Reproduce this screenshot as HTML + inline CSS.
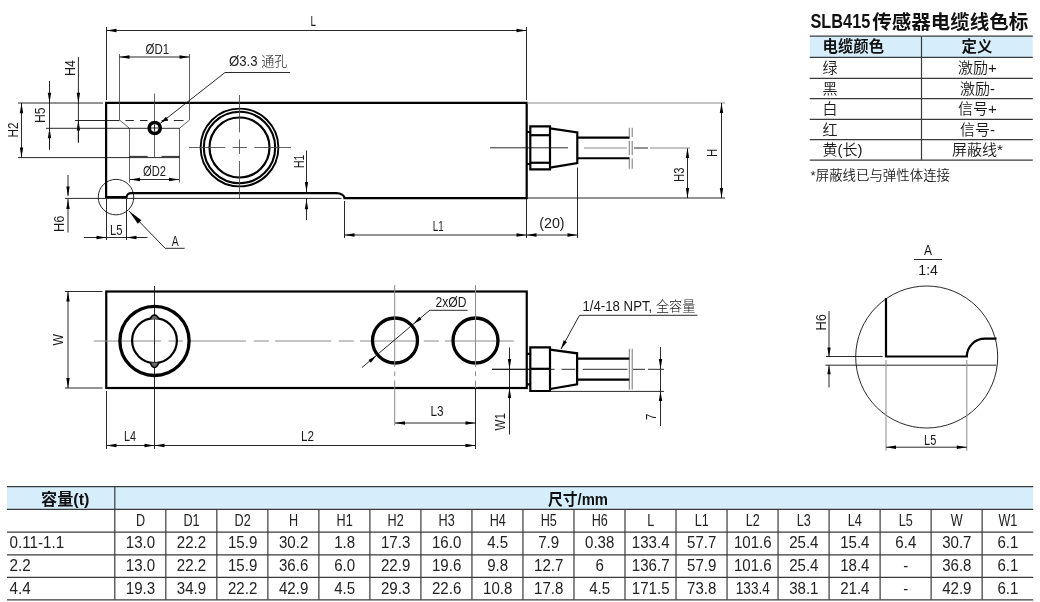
<!DOCTYPE html>
<html lang="zh"><head><meta charset="utf-8"><title>SLB415</title>
<style>
html,body{margin:0;padding:0;background:#fff;}
svg{display:block;will-change:transform}
.t{stroke:#111;stroke-width:0.9;fill:none}
.t2{stroke:#444;stroke-width:0.85;fill:none}
.g2{stroke:#666;stroke-width:0.9;fill:none}
.g{stroke:#8a8a8a;stroke-width:1;fill:none}
.k{stroke:#000;stroke-width:2.2;fill:none;stroke-linejoin:miter}
.k2{stroke:#000;stroke-width:2.2;fill:none}
.k15{stroke:#000;stroke-width:1.6;fill:none}
.k3{stroke:#000;stroke-width:3.3;fill:none}
.n{}
.tb{stroke:#3a3a3a;stroke-width:1.2;fill:none}
text{font-family:"Liberation Sans","Noto Sans CJK SC",sans-serif;fill:#1a1a1a}
.d{font-weight:400}
.cj{font-weight:300}
.b{font-weight:700;fill:#111}
.c{font-weight:350}
.n2{font-weight:400;fill:#222}
</style></head><body>
<svg width="1040" height="602" viewBox="0 0 1040 602">
<rect width="1040" height="602" fill="#fff"/>
<path d="M106.1,102.9 H526.7 V198.2 H344.5 A8.2,5 0 0 0 336.3,193.2 H131.2 A4.7,4.1 0 0 0 126.5,197.2 H106.1 Z" class="k" />
<line x1="106.5" y1="27" x2="106.5" y2="100" class="t" />
<line x1="526.5" y1="27" x2="526.5" y2="100" class="t" />
<line x1="106.5" y1="30.5" x2="526.5" y2="30.5" class="t" />
<polygon points="106.50,30.50 116.50,28.80 116.50,32.20" fill="#000"/>
<polygon points="526.50,30.50 516.50,32.20 516.50,28.80" fill="#000"/>
<text x="310.5" y="26" font-size="13.9" class="d" textLength="5.50" lengthAdjust="spacingAndGlyphs" >L</text>
<line x1="119.5" y1="54" x2="119.5" y2="120" class="t2" />
<line x1="189.5" y1="54" x2="189.5" y2="120" class="t2" />
<line x1="119.5" y1="57" x2="189.5" y2="57" class="t" />
<polygon points="119.50,57.00 129.50,55.30 129.50,58.70" fill="#000"/>
<polygon points="189.50,57.00 179.50,58.70 179.50,55.30" fill="#000"/>
<text x="145.5" y="54" font-size="13.9" class="d" textLength="23.50" lengthAdjust="spacingAndGlyphs" >ØD1</text>
<line x1="119.5" y1="120" x2="129.5" y2="128.3" class="t2" />
<line x1="189.5" y1="120" x2="179.5" y2="128.3" class="t2" />
<line x1="129.5" y1="128" x2="129.5" y2="182.5" class="t2" />
<line x1="179.5" y1="128" x2="179.5" y2="182.5" class="t2" />
<line x1="125.4" y1="120.5" x2="133.8" y2="120.5" class="t" />
<line x1="140" y1="120.5" x2="147.5" y2="120.5" class="t" />
<line x1="161.5" y1="120.5" x2="168" y2="120.5" class="t" />
<line x1="173.8" y1="120.5" x2="183.5" y2="120.5" class="t" />
<line x1="129.5" y1="156.4" x2="147.7" y2="156.4" class="t" />
<line x1="161.5" y1="156.4" x2="179.5" y2="156.4" class="t" />
<line x1="78.4" y1="57" x2="78.4" y2="142.5" class="t" />
<polygon points="78.40,102.70 76.70,92.70 80.10,92.70" fill="#000"/>
<polygon points="78.40,120.50 80.10,130.50 76.70,130.50" fill="#000"/>
<line x1="78.4" y1="120.5" x2="78.4" y2="142.5" class="t" />
<text transform="translate(74.5,76) rotate(-90)" font-size="13.9" class="d" textLength="16.00" lengthAdjust="spacingAndGlyphs">H4</text>
<line x1="75" y1="120.5" x2="119.5" y2="120.5" class="t" />
<line x1="49.5" y1="81" x2="49.5" y2="149.5" class="t" />
<polygon points="49.50,102.70 47.80,92.70 51.20,92.70" fill="#000"/>
<polygon points="49.50,128.30 51.20,138.30 47.80,138.30" fill="#000"/>
<line x1="49.5" y1="128" x2="49.5" y2="149.5" class="t" />
<text transform="translate(44.5,123) rotate(-90)" font-size="13.9" class="d" textLength="15.50" lengthAdjust="spacingAndGlyphs">H5</text>
<line x1="46" y1="128.3" x2="179.5" y2="128.3" class="t" />
<line x1="18" y1="103" x2="103" y2="103" class="t" stroke-width="1.1"/>
<line x1="18" y1="157.6" x2="179.5" y2="157.6" class="t" />
<line x1="21.5" y1="103" x2="21.5" y2="157.5" class="t" />
<polygon points="21.50,103.30 23.20,113.30 19.80,113.30" fill="#000"/>
<polygon points="21.50,157.50 19.80,147.50 23.20,147.50" fill="#000"/>
<text transform="translate(17.5,137.5) rotate(-90)" font-size="13.9" class="d" textLength="15.00" lengthAdjust="spacingAndGlyphs">H2</text>
<line x1="130" y1="179.5" x2="179" y2="179.5" class="t" />
<polygon points="130.00,179.50 140.00,177.80 140.00,181.20" fill="#000"/>
<polygon points="179.00,179.50 169.00,181.20 169.00,177.80" fill="#000"/>
<text x="143" y="175.5" font-size="13.9" class="d" textLength="23.00" lengthAdjust="spacingAndGlyphs" >ØD2</text>
<line x1="154.5" y1="93.5" x2="154.5" y2="158" class="t2" />
<circle cx="154.7" cy="128" r="5.5" class="n" stroke="#000" stroke-width="3.6" fill="#fff"/>
<line x1="154.5" y1="124.5" x2="154.5" y2="131.5" class="t" />
<line x1="151" y1="128" x2="158" y2="128" class="t" />
<line x1="225" y1="72.5" x2="290" y2="72.5" class="t" />
<line x1="225" y1="72.5" x2="160.3" y2="123.3" class="t" />
<polygon points="160.30,123.30 165.87,116.64 168.10,119.47" fill="#000"/>
<text x="229" y="66.2" font-size="13.9" class="d" textLength="58.5" lengthAdjust="spacingAndGlyphs">Ø3.3 <tspan class="cj">通孔</tspan></text>
<circle cx="239.5" cy="147.5" r="38.9" class="n" stroke="#000" stroke-width="1.9" fill="none"/>
<circle cx="239.5" cy="147.5" r="35.7" class="n" stroke="#000" stroke-width="2.1" fill="none"/>
<circle cx="239.5" cy="147.5" r="30" class="n" stroke="#000" stroke-width="2.2" fill="none"/>
<line x1="189" y1="147.5" x2="225.3" y2="147.5" class="t2" />
<line x1="232.6" y1="147.5" x2="246.9" y2="147.5" class="t2" />
<line x1="254.3" y1="147.5" x2="291" y2="147.5" class="t2" />
<line x1="239.5" y1="95" x2="239.5" y2="132.4" class="t2" />
<line x1="239.5" y1="139.4" x2="239.5" y2="154" class="t2" />
<line x1="239.5" y1="161" x2="239.5" y2="199" class="t2" />
<line x1="65" y1="198.4" x2="341.5" y2="198.4" class="t" />
<line x1="306.5" y1="150.5" x2="306.5" y2="193" class="t" />
<polygon points="306.50,192.00 304.80,182.00 308.20,182.00" fill="#000"/>
<polygon points="306.50,199.30 308.20,209.30 304.80,209.30" fill="#000"/>
<line x1="306.5" y1="198" x2="306.5" y2="220" class="t" />
<text transform="translate(303.75,168) rotate(-90)" font-size="13.9" class="d" textLength="13.50" lengthAdjust="spacingAndGlyphs">H1</text>
<line x1="68" y1="175" x2="68" y2="196" class="t" />
<polygon points="68.00,196.50 66.30,186.50 69.70,186.50" fill="#000"/>
<polygon points="68.00,199.00 69.70,209.00 66.30,209.00" fill="#000"/>
<line x1="68" y1="199" x2="68" y2="232.5" class="t" />
<text transform="translate(63.5,232) rotate(-90)" font-size="13.9" class="d" textLength="16.50" lengthAdjust="spacingAndGlyphs">H6</text>
<circle cx="116" cy="197.1" r="17.75" class="t" />
<line x1="106.5" y1="199" x2="106.5" y2="240" class="t" />
<line x1="126.5" y1="199" x2="126.5" y2="240" class="t" />
<line x1="84" y1="237.5" x2="106.5" y2="237.5" class="t" />
<polygon points="106.50,237.50 96.50,239.20 96.50,235.80" fill="#000"/>
<line x1="126.5" y1="237.5" x2="147.5" y2="237.5" class="t" />
<polygon points="126.50,237.50 136.50,235.80 136.50,239.20" fill="#000"/>
<line x1="106.5" y1="237.5" x2="126.5" y2="237.5" class="t" />
<text x="110" y="234.5" font-size="13.9" class="d" textLength="12.50" lengthAdjust="spacingAndGlyphs" >L5</text>
<line x1="128.8" y1="210.8" x2="165.2" y2="248.3" class="t" />
<line x1="165.2" y1="248.3" x2="184.6" y2="248.3" class="t" />
<polygon points="128.80,210.80 141.39,220.18 137.80,223.66" fill="#000"/>
<text x="171.7" y="245.7" font-size="13.9" class="d" textLength="6.90" lengthAdjust="spacingAndGlyphs" >A</text>
<line x1="344.5" y1="201" x2="344.5" y2="238" class="t" />
<line x1="526.5" y1="198" x2="526.5" y2="238" class="t" />
<line x1="577.5" y1="167.5" x2="577.5" y2="238" class="t" />
<line x1="344.5" y1="235" x2="577.5" y2="235" class="t" />
<polygon points="344.50,235.00 354.50,233.30 354.50,236.70" fill="#000"/>
<polygon points="526.50,235.00 516.50,236.70 516.50,233.30" fill="#000"/>
<polygon points="526.50,235.00 536.50,233.30 536.50,236.70" fill="#000"/>
<polygon points="577.50,235.00 567.50,236.70 567.50,233.30" fill="#000"/>
<text x="432.7" y="230.5" font-size="13.9" class="d" textLength="10.90" lengthAdjust="spacingAndGlyphs" >L1</text>
<text x="539.2" y="228" font-size="13.9" class="d" textLength="25.40" lengthAdjust="spacingAndGlyphs" >(20)</text>
<line x1="527" y1="103" x2="725" y2="103" class="g" />
<line x1="527" y1="198" x2="725" y2="198" class="t" />
<line x1="721.5" y1="103" x2="721.5" y2="198" class="t" />
<polygon points="721.50,103.00 723.20,113.00 719.80,113.00" fill="#000"/>
<polygon points="721.50,198.00 719.80,188.00 723.20,188.00" fill="#000"/>
<text transform="translate(717,157) rotate(-90)" font-size="13.9" class="d" textLength="8.25" lengthAdjust="spacingAndGlyphs">H</text>
<line x1="687.5" y1="148" x2="687.5" y2="198" class="t" />
<polygon points="687.50,148.00 689.20,158.00 685.80,158.00" fill="#000"/>
<polygon points="687.50,198.00 685.80,188.00 689.20,188.00" fill="#000"/>
<text transform="translate(683.75,182) rotate(-90)" font-size="13.9" class="d" textLength="14.50" lengthAdjust="spacingAndGlyphs">H3</text>
<line x1="490" y1="147.8" x2="568" y2="147.8" class="t" stroke-width="1.1"/>
<line x1="584" y1="148" x2="627" y2="148" class="g" />
<line x1="634" y1="148" x2="648" y2="148" class="t" />
<line x1="650" y1="148" x2="690" y2="148" class="g" />
<path d="M530.3,126.3 H550 V169.3 H530.3 Z" class="k2" />
<line x1="530.3" y1="135.2" x2="550" y2="135.2" class="k2" />
<line x1="530.3" y1="162.75" x2="550" y2="162.75" class="k2" />
<path d="M527,132 H530 M527,164 H530" class="k2" />
<path d="M550,128.4 L577.3,132.4 V163 L550,167.6" class="k2" />
<line x1="577.3" y1="137.7" x2="629.6" y2="137.7" class="k2" />
<line x1="577.3" y1="158.25" x2="629.6" y2="158.25" class="k2" />
<line x1="629.3" y1="127.8" x2="629.3" y2="137" class="g2" />
<line x1="632.2" y1="127.8" x2="632.2" y2="137" class="g2" />
<line x1="629.3" y1="141" x2="629.3" y2="155" class="g2" />
<line x1="632.2" y1="141" x2="632.2" y2="155" class="g2" />
<line x1="629.3" y1="158.4" x2="629.3" y2="168.7" class="g2" />
<line x1="632.2" y1="158.4" x2="632.2" y2="168.7" class="g2" />
<rect x="106.25" y="291.5" width="420.5" height="96.5" class="k"/>
<line x1="65" y1="291.5" x2="102.5" y2="291.5" class="t" />
<line x1="65" y1="388" x2="102.5" y2="388" class="t" />
<line x1="68" y1="291.5" x2="68" y2="388" class="t" />
<polygon points="68.00,291.50 69.70,301.50 66.30,301.50" fill="#000"/>
<polygon points="68.00,388.00 66.30,378.00 69.70,378.00" fill="#000"/>
<text transform="translate(63,345.5) rotate(-90)" font-size="13.9" class="d" textLength="11.50" lengthAdjust="spacingAndGlyphs">W</text>
<line x1="93.75" y1="341" x2="161.25" y2="341" class="g" />
<line x1="168.5" y1="341" x2="183" y2="341" class="g" />
<line x1="190" y1="341" x2="246" y2="341" class="g" />
<line x1="253.75" y1="341" x2="268.75" y2="341" class="g" />
<line x1="275" y1="341" x2="331.25" y2="341" class="g" />
<line x1="338.75" y1="341" x2="353.75" y2="341" class="g" />
<line x1="360" y1="341" x2="417.5" y2="341" class="g" />
<line x1="423.75" y1="341" x2="438.75" y2="341" class="g" />
<line x1="445" y1="341" x2="513.75" y2="341" class="g" />
<line x1="154.5" y1="286" x2="154.5" y2="449" class="t" />
<circle cx="154.5" cy="340.9" r="34.6" class="k3" />
<circle cx="154.5" cy="340.6" r="22.4" class="k" />
<path d="M150.4,319 Q151.5,315 154.5,315 Q157.5,315 158.7,319" class="n" stroke="#000" stroke-width="1.5" fill="#666"/>
<path d="M150.4,362.4 Q151.5,367.4 154.5,367.4 Q157.5,367.4 158.7,362.4" class="n" stroke="#000" stroke-width="1.5" fill="#666"/>
<line x1="106.5" y1="391" x2="106.5" y2="449" class="t" />
<line x1="106.5" y1="445.5" x2="154.5" y2="445.5" class="t" />
<polygon points="106.50,445.50 116.50,443.80 116.50,447.20" fill="#000"/>
<polygon points="154.50,445.50 144.50,447.20 144.50,443.80" fill="#000"/>
<text x="124" y="440.5" font-size="13.9" class="d" textLength="12.00" lengthAdjust="spacingAndGlyphs" >L4</text>
<line x1="154.5" y1="445.5" x2="475.5" y2="445.5" class="t" />
<polygon points="154.50,445.50 164.50,443.80 164.50,447.20" fill="#000"/>
<polygon points="475.50,445.50 465.50,447.20 465.50,443.80" fill="#000"/>
<text x="301" y="440.5" font-size="13.9" class="d" textLength="13.00" lengthAdjust="spacingAndGlyphs" >L2</text>
<circle cx="395" cy="340.5" r="22.5" class="k3" />
<circle cx="475.5" cy="340.5" r="22.5" class="k3" />
<line x1="394.7" y1="285" x2="394.7" y2="367" class="g" />
<line x1="394.7" y1="371.5" x2="394.7" y2="376" class="g" />
<line x1="394.7" y1="380.5" x2="394.7" y2="425.5" class="g" />
<line x1="475.5" y1="285" x2="475.5" y2="367" class="g" />
<line x1="475.5" y1="371.5" x2="475.5" y2="376" class="g" />
<line x1="475.5" y1="380.5" x2="475.5" y2="388" class="g" />
<line x1="475.5" y1="388" x2="475.5" y2="449" class="t" />
<line x1="395" y1="423" x2="475.5" y2="423" class="t" />
<polygon points="395.00,423.00 405.00,421.30 405.00,424.70" fill="#000"/>
<polygon points="475.50,423.00 465.50,424.70 465.50,421.30" fill="#000"/>
<text x="430.5" y="415.5" font-size="13.9" class="d" textLength="13.00" lengthAdjust="spacingAndGlyphs" >L3</text>
<line x1="430" y1="310.3" x2="467.5" y2="310.3" class="t" />
<line x1="430" y1="310" x2="362" y2="367.5" class="t" />
<polygon points="413.50,324.00 419.21,316.81 421.53,319.56" fill="#000"/>
<polygon points="376.50,355.50 370.79,362.69 368.47,359.94" fill="#000"/>
<text x="435.5" y="307" font-size="13.9" class="d" textLength="31.00" lengthAdjust="spacingAndGlyphs" >2xØD</text>
<line x1="492" y1="369.3" x2="530" y2="369.3" class="t" />
<line x1="509.5" y1="347.5" x2="509.5" y2="434.5" class="t" />
<polygon points="509.50,369.00 507.80,359.00 511.20,359.00" fill="#000"/>
<polygon points="509.50,388.00 511.20,398.00 507.80,398.00" fill="#000"/>
<text transform="translate(505,430.5) rotate(-90)" font-size="13.9" class="d" textLength="17.50" lengthAdjust="spacingAndGlyphs">W1</text>
<path d="M530.3,347.3 H550 V391 H530.3 Z" class="k2" />
<line x1="530.3" y1="368.8" x2="550" y2="368.8" class="k2" />
<path d="M527,353.8 H530 M527,384.4 H530" class="k2" />
<path d="M550,349.7 L577.1,353.3 V384.4 L550,389" class="k2" />
<line x1="577.1" y1="358.6" x2="629.6" y2="358.6" class="k2" />
<line x1="577.1" y1="379.7" x2="629.6" y2="379.7" class="k2" />
<line x1="629.3" y1="348.7" x2="629.3" y2="389.6" class="g2" />
<line x1="632.2" y1="348.7" x2="632.2" y2="389.6" class="g2" />
<line x1="492" y1="369.3" x2="554.6" y2="369.3" class="t" />
<line x1="561.5" y1="369.3" x2="575.4" y2="369.3" class="t" />
<line x1="582.9" y1="369.3" x2="627.5" y2="369.3" class="t" />
<line x1="633" y1="369.3" x2="645" y2="369.3" class="t" />
<line x1="648" y1="369.3" x2="664" y2="369.3" class="t" />
<line x1="550" y1="391.4" x2="664" y2="391.4" class="t" />
<line x1="660.5" y1="347" x2="660.5" y2="426" class="t" />
<polygon points="660.50,369.00 658.80,359.00 662.20,359.00" fill="#000"/>
<polygon points="660.50,391.00 662.20,401.00 658.80,401.00" fill="#000"/>
<text transform="translate(655.75,420) rotate(-90)" font-size="13.9" class="d" textLength="6.25" lengthAdjust="spacingAndGlyphs">7</text>
<line x1="579.5" y1="315.3" x2="697.5" y2="315.3" class="t" />
<line x1="579.5" y1="315.3" x2="561" y2="349" class="t" />
<polygon points="561.00,349.00 563.63,340.19 566.97,342.00" fill="#000"/>
<text x="582.5" y="311" font-size="13.9" class="d" textLength="113" lengthAdjust="spacingAndGlyphs">1/4-18 NPT, <tspan class="cj">全容量</tspan></text>
<text x="924" y="255" font-size="13.9" class="d" textLength="8.00" lengthAdjust="spacingAndGlyphs" >A</text>
<line x1="914" y1="259.5" x2="942" y2="259.5" class="t" />
<text x="918.3" y="275" font-size="13.9" class="d" textLength="19.70" lengthAdjust="spacingAndGlyphs" >1:4</text>
<circle cx="926.7" cy="357" r="71" class="t" />
<path d="M886,298 V356.5 H966.8 A18,17.8 0 0 1 984.8,338.7 H996.5" class="k" />
<line x1="826" y1="356.5" x2="882.7" y2="356.5" class="t" />
<line x1="825.4" y1="365.2" x2="996.4" y2="365.2" class="t" />
<line x1="829" y1="311" x2="829" y2="356.5" class="t" />
<polygon points="829.00,356.50 827.30,347.50 830.70,347.50" fill="#000"/>
<polygon points="829.00,365.20 830.70,374.20 827.30,374.20" fill="#000"/>
<line x1="829" y1="365.2" x2="829" y2="387.6" class="t" />
<text transform="translate(826,330.5) rotate(-90)" font-size="13.9" class="d" textLength="16.50" lengthAdjust="spacingAndGlyphs">H6</text>
<line x1="886" y1="360" x2="886" y2="450.7" class="g" />
<line x1="966.8" y1="360" x2="966.8" y2="450.7" class="g" />
<line x1="886" y1="447.2" x2="966.8" y2="447.2" class="t" />
<polygon points="886.00,447.20 896.00,445.50 896.00,448.90" fill="#000"/>
<polygon points="966.80,447.20 956.80,448.90 956.80,445.50" fill="#000"/>
<text x="924" y="445" font-size="13.9" class="d" textLength="12.30" lengthAdjust="spacingAndGlyphs" >L5</text>
<text transform="translate(810.5,28.4) scale(0.84,1)" class="b" font-size="19.4">SLB415</text>
<text x="872.2" y="28.6" class="b" font-size="19.4" textLength="156" lengthAdjust="spacingAndGlyphs">传感器电缆线色标</text>
<rect x="809.75" y="36" width="223" height="21.3" fill="#d6eefb"/>
<line x1="809.75" y1="36.2" x2="1032.8" y2="36.2" class="tb" />
<line x1="809.75" y1="57.3" x2="1032.8" y2="57.3" class="tb" />
<line x1="809.75" y1="78.3" x2="1032.8" y2="78.3" class="tb" />
<line x1="809.75" y1="98.7" x2="1032.8" y2="98.7" class="tb" />
<line x1="809.75" y1="119.3" x2="1032.8" y2="119.3" class="tb" />
<line x1="809.75" y1="139.7" x2="1032.8" y2="139.7" class="tb" />
<line x1="809.75" y1="160.2" x2="1032.8" y2="160.2" class="tb" />
<line x1="921.5" y1="36.2" x2="921.5" y2="160.2" class="tb" />
<text x="822.5" y="51.8" class="b" font-size="15.4">电缆颜色</text>
<text x="977" y="51.8" class="b" font-size="15.4" text-anchor="middle">定义</text>
<text x="822.5" y="72.9" class="c" font-size="15">绿</text>
<text x="977.5" y="72.9" class="c" font-size="15" text-anchor="middle">激励+</text>
<text x="822.5" y="93.9" class="c" font-size="15">黑</text>
<text x="977.5" y="93.9" class="c" font-size="15" text-anchor="middle">激励-</text>
<text x="822.5" y="114.3" class="c" font-size="15">白</text>
<text x="977.5" y="114.3" class="c" font-size="15" text-anchor="middle">信号+</text>
<text x="822.5" y="134.9" class="c" font-size="15">红</text>
<text x="977.5" y="134.9" class="c" font-size="15" text-anchor="middle">信号-</text>
<text x="822.5" y="155.3" class="c" font-size="15">黄(长)</text>
<text x="977.5" y="155.3" class="c" font-size="15" text-anchor="middle">屏蔽线*</text>
<text x="810.5" y="180" class="c" font-size="13.1" textLength="139.5" lengthAdjust="spacingAndGlyphs">*屏蔽线已与弹性体连接</text>
<rect x="7" y="486.7" width="1026.2" height="22.6" fill="#d6eefb"/>
<line x1="7" y1="486.7" x2="1033.2" y2="486.7" class="tb" />
<line x1="7" y1="509.3" x2="1033.2" y2="509.3" class="tb" />
<line x1="7" y1="532.2" x2="1033.2" y2="532.2" class="tb" />
<line x1="7" y1="554.9" x2="1033.2" y2="554.9" class="tb" />
<line x1="7" y1="577.4" x2="1033.2" y2="577.4" class="tb" />
<line x1="7" y1="599.8" x2="1033.2" y2="599.8" class="tb" />
<line x1="114.8" y1="486.7" x2="114.8" y2="599.8" class="tb" />
<line x1="165.82" y1="509.3" x2="165.82" y2="599.8" class="tb" />
<line x1="216.84" y1="509.3" x2="216.84" y2="599.8" class="tb" />
<line x1="267.86" y1="509.3" x2="267.86" y2="599.8" class="tb" />
<line x1="318.88" y1="509.3" x2="318.88" y2="599.8" class="tb" />
<line x1="369.90" y1="509.3" x2="369.90" y2="599.8" class="tb" />
<line x1="420.92" y1="509.3" x2="420.92" y2="599.8" class="tb" />
<line x1="471.94" y1="509.3" x2="471.94" y2="599.8" class="tb" />
<line x1="522.96" y1="509.3" x2="522.96" y2="599.8" class="tb" />
<line x1="573.98" y1="509.3" x2="573.98" y2="599.8" class="tb" />
<line x1="625.00" y1="509.3" x2="625.00" y2="599.8" class="tb" />
<line x1="676.02" y1="509.3" x2="676.02" y2="599.8" class="tb" />
<line x1="727.04" y1="509.3" x2="727.04" y2="599.8" class="tb" />
<line x1="778.06" y1="509.3" x2="778.06" y2="599.8" class="tb" />
<line x1="829.08" y1="509.3" x2="829.08" y2="599.8" class="tb" />
<line x1="880.10" y1="509.3" x2="880.10" y2="599.8" class="tb" />
<line x1="931.12" y1="509.3" x2="931.12" y2="599.8" class="tb" />
<line x1="982.14" y1="509.3" x2="982.14" y2="599.8" class="tb" />
<text x="41" y="504.8" class="b" font-size="16" textLength="48.5" lengthAdjust="spacingAndGlyphs">容量(t)</text>
<text x="548" y="504.6" class="b" font-size="16" textLength="60" lengthAdjust="spacingAndGlyphs">尺寸/mm</text>
<text transform="translate(140.5,525.8) scale(0.78,1)" class="n2" font-size="16.2" text-anchor="middle">D</text>
<text transform="translate(191.5,525.8) scale(0.78,1)" class="n2" font-size="16.2" text-anchor="middle">D1</text>
<text transform="translate(242.6,525.8) scale(0.78,1)" class="n2" font-size="16.2" text-anchor="middle">D2</text>
<text transform="translate(293.6,525.8) scale(0.78,1)" class="n2" font-size="16.2" text-anchor="middle">H</text>
<text transform="translate(344.6,525.8) scale(0.78,1)" class="n2" font-size="16.2" text-anchor="middle">H1</text>
<text transform="translate(395.6,525.8) scale(0.78,1)" class="n2" font-size="16.2" text-anchor="middle">H2</text>
<text transform="translate(446.6,525.8) scale(0.78,1)" class="n2" font-size="16.2" text-anchor="middle">H3</text>
<text transform="translate(497.7,525.8) scale(0.78,1)" class="n2" font-size="16.2" text-anchor="middle">H4</text>
<text transform="translate(548.7,525.8) scale(0.78,1)" class="n2" font-size="16.2" text-anchor="middle">H5</text>
<text transform="translate(599.7,525.8) scale(0.78,1)" class="n2" font-size="16.2" text-anchor="middle">H6</text>
<text transform="translate(650.7,525.8) scale(0.78,1)" class="n2" font-size="16.2" text-anchor="middle">L</text>
<text transform="translate(701.7,525.8) scale(0.78,1)" class="n2" font-size="16.2" text-anchor="middle">L1</text>
<text transform="translate(752.8,525.8) scale(0.78,1)" class="n2" font-size="16.2" text-anchor="middle">L2</text>
<text transform="translate(803.8,525.8) scale(0.78,1)" class="n2" font-size="16.2" text-anchor="middle">L3</text>
<text transform="translate(854.8,525.8) scale(0.78,1)" class="n2" font-size="16.2" text-anchor="middle">L4</text>
<text transform="translate(905.8,525.8) scale(0.78,1)" class="n2" font-size="16.2" text-anchor="middle">L5</text>
<text transform="translate(956.8,525.8) scale(0.78,1)" class="n2" font-size="16.2" text-anchor="middle">W</text>
<text transform="translate(1007.9,525.8) scale(0.78,1)" class="n2" font-size="16.2" text-anchor="middle">W1</text>
<text transform="translate(9.5,548.4) scale(0.94,1)" class="n2" font-size="16.2" text-anchor="start">0.11-1.1</text>
<text transform="translate(140.5,548.4) scale(0.93,1)" class="n2" font-size="16.2" text-anchor="middle">13.0</text>
<text transform="translate(191.5,548.4) scale(0.93,1)" class="n2" font-size="16.2" text-anchor="middle">22.2</text>
<text transform="translate(242.6,548.4) scale(0.93,1)" class="n2" font-size="16.2" text-anchor="middle">15.9</text>
<text transform="translate(293.6,548.4) scale(0.93,1)" class="n2" font-size="16.2" text-anchor="middle">30.2</text>
<text transform="translate(344.6,548.4) scale(0.93,1)" class="n2" font-size="16.2" text-anchor="middle">1.8</text>
<text transform="translate(395.6,548.4) scale(0.93,1)" class="n2" font-size="16.2" text-anchor="middle">17.3</text>
<text transform="translate(446.6,548.4) scale(0.93,1)" class="n2" font-size="16.2" text-anchor="middle">16.0</text>
<text transform="translate(497.7,548.4) scale(0.93,1)" class="n2" font-size="16.2" text-anchor="middle">4.5</text>
<text transform="translate(548.7,548.4) scale(0.93,1)" class="n2" font-size="16.2" text-anchor="middle">7.9</text>
<text transform="translate(599.7,548.4) scale(0.93,1)" class="n2" font-size="16.2" text-anchor="middle">0.38</text>
<text transform="translate(650.7,548.4) scale(0.93,1)" class="n2" font-size="16.2" text-anchor="middle">133.4</text>
<text transform="translate(701.7,548.4) scale(0.93,1)" class="n2" font-size="16.2" text-anchor="middle">57.7</text>
<text transform="translate(752.8,548.4) scale(0.93,1)" class="n2" font-size="16.2" text-anchor="middle">101.6</text>
<text transform="translate(803.8,548.4) scale(0.93,1)" class="n2" font-size="16.2" text-anchor="middle">25.4</text>
<text transform="translate(854.8,548.4) scale(0.93,1)" class="n2" font-size="16.2" text-anchor="middle">15.4</text>
<text transform="translate(905.8,548.4) scale(0.93,1)" class="n2" font-size="16.2" text-anchor="middle">6.4</text>
<text transform="translate(956.8,548.4) scale(0.93,1)" class="n2" font-size="16.2" text-anchor="middle">30.7</text>
<text transform="translate(1007.9,548.4) scale(0.93,1)" class="n2" font-size="16.2" text-anchor="middle">6.1</text>
<text transform="translate(9.5,571.1) scale(0.94,1)" class="n2" font-size="16.2" text-anchor="start">2.2</text>
<text transform="translate(140.5,571.1) scale(0.93,1)" class="n2" font-size="16.2" text-anchor="middle">13.0</text>
<text transform="translate(191.5,571.1) scale(0.93,1)" class="n2" font-size="16.2" text-anchor="middle">22.2</text>
<text transform="translate(242.6,571.1) scale(0.93,1)" class="n2" font-size="16.2" text-anchor="middle">15.9</text>
<text transform="translate(293.6,571.1) scale(0.93,1)" class="n2" font-size="16.2" text-anchor="middle">36.6</text>
<text transform="translate(344.6,571.1) scale(0.93,1)" class="n2" font-size="16.2" text-anchor="middle">6.0</text>
<text transform="translate(395.6,571.1) scale(0.93,1)" class="n2" font-size="16.2" text-anchor="middle">22.9</text>
<text transform="translate(446.6,571.1) scale(0.93,1)" class="n2" font-size="16.2" text-anchor="middle">19.6</text>
<text transform="translate(497.7,571.1) scale(0.93,1)" class="n2" font-size="16.2" text-anchor="middle">9.8</text>
<text transform="translate(548.7,571.1) scale(0.93,1)" class="n2" font-size="16.2" text-anchor="middle">12.7</text>
<text transform="translate(599.7,571.1) scale(0.93,1)" class="n2" font-size="16.2" text-anchor="middle">6</text>
<text transform="translate(650.7,571.1) scale(0.93,1)" class="n2" font-size="16.2" text-anchor="middle">136.7</text>
<text transform="translate(701.7,571.1) scale(0.93,1)" class="n2" font-size="16.2" text-anchor="middle">57.9</text>
<text transform="translate(752.8,571.1) scale(0.93,1)" class="n2" font-size="16.2" text-anchor="middle">101.6</text>
<text transform="translate(803.8,571.1) scale(0.93,1)" class="n2" font-size="16.2" text-anchor="middle">25.4</text>
<text transform="translate(854.8,571.1) scale(0.93,1)" class="n2" font-size="16.2" text-anchor="middle">18.4</text>
<text transform="translate(905.8,571.1) scale(0.93,1)" class="n2" font-size="16.2" text-anchor="middle">-</text>
<text transform="translate(956.8,571.1) scale(0.93,1)" class="n2" font-size="16.2" text-anchor="middle">36.8</text>
<text transform="translate(1007.9,571.1) scale(0.93,1)" class="n2" font-size="16.2" text-anchor="middle">6.1</text>
<text transform="translate(9.5,593.5) scale(0.94,1)" class="n2" font-size="16.2" text-anchor="start">4.4</text>
<text transform="translate(140.5,593.5) scale(0.93,1)" class="n2" font-size="16.2" text-anchor="middle">19.3</text>
<text transform="translate(191.5,593.5) scale(0.93,1)" class="n2" font-size="16.2" text-anchor="middle">34.9</text>
<text transform="translate(242.6,593.5) scale(0.93,1)" class="n2" font-size="16.2" text-anchor="middle">22.2</text>
<text transform="translate(293.6,593.5) scale(0.93,1)" class="n2" font-size="16.2" text-anchor="middle">42.9</text>
<text transform="translate(344.6,593.5) scale(0.93,1)" class="n2" font-size="16.2" text-anchor="middle">4.5</text>
<text transform="translate(395.6,593.5) scale(0.93,1)" class="n2" font-size="16.2" text-anchor="middle">29.3</text>
<text transform="translate(446.6,593.5) scale(0.93,1)" class="n2" font-size="16.2" text-anchor="middle">22.6</text>
<text transform="translate(497.7,593.5) scale(0.93,1)" class="n2" font-size="16.2" text-anchor="middle">10.8</text>
<text transform="translate(548.7,593.5) scale(0.93,1)" class="n2" font-size="16.2" text-anchor="middle">17.8</text>
<text transform="translate(599.7,593.5) scale(0.93,1)" class="n2" font-size="16.2" text-anchor="middle">4.5</text>
<text transform="translate(650.7,593.5) scale(0.93,1)" class="n2" font-size="16.2" text-anchor="middle">171.5</text>
<text transform="translate(701.7,593.5) scale(0.93,1)" class="n2" font-size="16.2" text-anchor="middle">73.8</text>
<text transform="translate(752.8,593.5) scale(0.84,1)" class="n2" font-size="16.2" text-anchor="middle">133.4</text>
<text transform="translate(803.8,593.5) scale(0.93,1)" class="n2" font-size="16.2" text-anchor="middle">38.1</text>
<text transform="translate(854.8,593.5) scale(0.93,1)" class="n2" font-size="16.2" text-anchor="middle">21.4</text>
<text transform="translate(905.8,593.5) scale(0.93,1)" class="n2" font-size="16.2" text-anchor="middle">-</text>
<text transform="translate(956.8,593.5) scale(0.93,1)" class="n2" font-size="16.2" text-anchor="middle">42.9</text>
<text transform="translate(1007.9,593.5) scale(0.93,1)" class="n2" font-size="16.2" text-anchor="middle">6.1</text>
</svg>
</body></html>
